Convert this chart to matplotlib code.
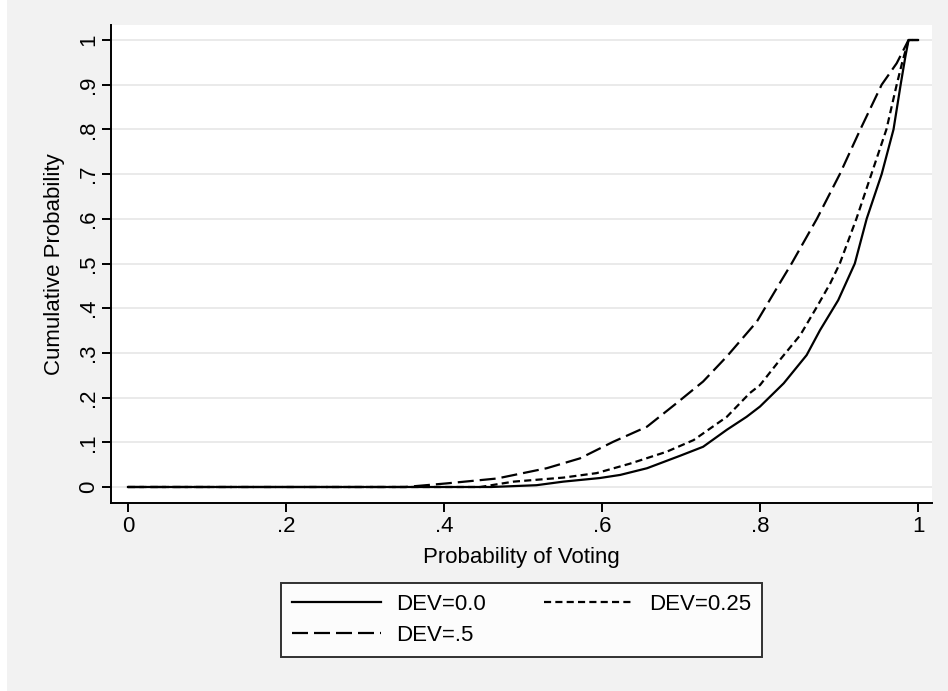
import matplotlib

matplotlib.use("Agg")
import matplotlib.pyplot as plt
from matplotlib.patches import Rectangle

plt.rcParams["font.family"] = ["Liberation Sans", "DejaVu Sans"]

# cumulative curves
x_dev0 = [0, 0.46, 0.517, 0.551, 0.597, 0.623, 0.657, 0.699, 0.728, 0.758, 0.783, 0.80,
          0.830, 0.859, 0.876, 0.899, 0.920, 0.935, 0.954, 0.969, 0.978, 0.984, 0.988, 1.0]
y_dev0 = [0, 0, 0.004, 0.012, 0.020, 0.027, 0.042, 0.070, 0.090, 0.128, 0.157, 0.180,
          0.232, 0.295, 0.351, 0.418, 0.500, 0.600, 0.700, 0.800, 0.900, 0.963, 1.0, 1.0]

x_dev25 = [0, 0.446, 0.488, 0.551, 0.593, 0.635, 0.682, 0.716, 0.758, 0.787, 0.80, 0.825,
           0.851, 0.872, 0.889, 0.901, 0.922, 0.941, 0.960, 0.973, 0.980, 0.988, 1.0]
y_dev25 = [0, 0, 0.012, 0.021, 0.031, 0.052, 0.079, 0.105, 0.157, 0.210, 0.228, 0.284,
           0.340, 0.403, 0.456, 0.500, 0.600, 0.700, 0.800, 0.900, 0.950, 1.0, 1.0]

x_dev5 = [0, 0.351, 0.403, 0.467, 0.530, 0.572, 0.614, 0.657, 0.694, 0.728, 0.758, 0.796,
          0.825, 0.840, 0.872, 0.901, 0.927, 0.954, 0.973, 0.988, 1.0]
y_dev5 = [0, 0, 0.008, 0.019, 0.042, 0.064, 0.101, 0.135, 0.187, 0.236, 0.292, 0.370,
          0.456, 0.500, 0.600, 0.700, 0.800, 0.900, 0.948, 1.0, 1.0]

labels = ["DEV=0.0", "DEV=0.25", "DEV=.5"]
xticks = [0, 0.2, 0.4, 0.6, 0.8, 1.0]
xticklabels = ["0", ".2", ".4", ".6", ".8", "1"]
yticks = [0, 0.1, 0.2, 0.3, 0.4, 0.5, 0.6, 0.7, 0.8, 0.9, 1.0]
yticklabels = ["0", ".1", ".2", ".3", ".4", ".5", ".6", ".7", ".8", ".9", "1"]

bg = "#F2F2F2"
fs = 16
lw = 1.6

fig = plt.figure(figsize=(9.48, 6.91), dpi=100, facecolor=bg)
fig.patches.append(Rectangle((0, 0), 7 / 948, 1, transform=fig.transFigure,
                             facecolor="white", edgecolor="none", zorder=-1))
ax = fig.add_axes([111 / 948, 1 - 503 / 691, 821 / 948, 478 / 691])

l0, = ax.plot(x_dev0, y_dev0, color="black", lw=lw, label=labels[0])
l25, = ax.plot(x_dev25, y_dev25, color="black", lw=lw, dashes=(3.2, 1.9), label=labels[1])
l5, = ax.plot(x_dev5, y_dev5, color="black", lw=lw, dashes=(7.2, 2.7), label=labels[2])

ax.set_xlim(-0.0215, 1.0177)
ax.set_ylim(-0.0358, 1.0336)
ax.set_xticks(xticks, xticklabels)
ax.set_yticks(yticks, yticklabels)
ax.tick_params(axis="both", labelsize=fs, length=6.7, width=1.4, color="black")
ax.tick_params(axis="y", labelrotation=90, pad=2)
ax.tick_params(axis="x", pad=3)
for lab in ax.get_yticklabels():
    lab.set_va("center")
ax.grid(axis="y", color="#EAEAEA", lw=1.4)
ax.set_axisbelow(True)
for side in ("top", "right"):
    ax.spines[side].set_visible(False)
for side in ("left", "bottom"):
    ax.spines[side].set_linewidth(1.4)

ax.set_xlabel("Probability of Voting", fontsize=fs, labelpad=7)
ax.set_ylabel("Cumulative Probability", fontsize=fs, labelpad=9)

# column-wise fill: col 1 = DEV=0.0, DEV=.5 ; col 2 = DEV=0.25
leg = fig.legend([l0, l5, l25], [labels[0], labels[2], labels[1]], loc="center",
                 bbox_to_anchor=(281 / 948, 1 - 660 / 691, 481 / 948, 80 / 691),
                 mode="expand", ncol=2, fontsize=fs, handlelength=4.0, handletextpad=0.7,
                 columnspacing=2.2, labelspacing=0.45, borderpad=0.5, borderaxespad=0,
                 fancybox=False, frameon=True)
leg.get_frame().set_edgecolor("black")
leg.get_frame().set_linewidth(1.4)

fig.savefig("out.png", dpi=100, facecolor=bg)
